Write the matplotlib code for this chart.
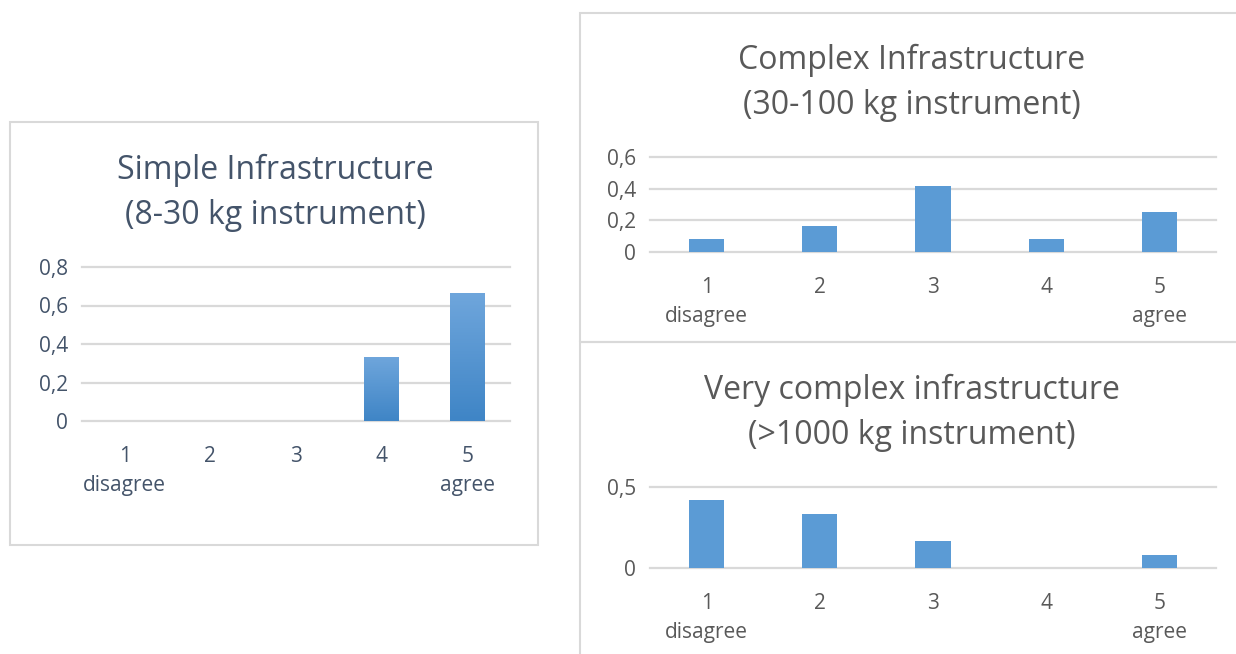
import numpy as np
import matplotlib
matplotlib.use("Agg")
import matplotlib.pyplot as plt
from matplotlib.patches import Rectangle
from matplotlib.colors import LinearSegmentedColormap

plt.rcParams['font.family'] = ['Open Sans', 'DejaVu Sans']

# data
categories = [1, 2, 3, 4, 5]
xlabels = ["1\ndisagree", "2", "3", "4", "5\nagree"]
simple_vals = [0, 0, 0, 0.333, 0.667]
complex_vals = [0.083, 0.167, 0.417, 0.083, 0.25]
very_complex_vals = [0.417, 0.333, 0.167, 0, 0.083]

simple_ticks = [0, 0.2, 0.4, 0.6, 0.8]
complex_ticks = [0, 0.2, 0.4, 0.6]
very_complex_ticks = [0, 0.5]

W, H = 1236, 654
fig = plt.figure(figsize=(W / 100, H / 100), dpi=100)

def px_axes(left, top, right, bottom):
    # pixel box (from top-left) -> figure fraction axes
    return fig.add_axes([left / W, 1 - bottom / H, (right - left) / W, (bottom - top) / H])

def frame(left, top, right, bottom):
    fig.patches.append(Rectangle((left / W, 1 - bottom / H), (right - left) / W, (bottom - top) / H,
                                 transform=fig.transFigure, fill=False, ec='#d9d9d9', lw=1.5))

def tick_label(v):
    return ("%g" % v).replace(".", ",")

def panel(ax, vals, ticks, width, color, txtcolor, gradient=False):
    ax.set_xlim(0.5, 5.5)
    ax.set_ylim(0, ticks[-1])
    for t in ticks:
        ax.axhline(t, color='#d9d9d9', lw=1.6, clip_on=False, zorder=0)
    bars = ax.bar(categories, vals, width=width, color=color, zorder=2)
    if gradient:
        cmap = LinearSegmentedColormap.from_list("g", ["#3f85c6", "#6fa6dc"])
        grad = np.linspace(0, 1, 100).reshape(-1, 1)
        for b in bars:
            if b.get_height() <= 0:
                continue
            x0, y0 = b.get_x(), b.get_y()
            im = ax.imshow(grad, extent=[x0, x0 + b.get_width(), y0, y0 + b.get_height()],
                           origin='lower', aspect='auto', cmap=cmap, zorder=3)
            im.set_clip_path(b)
        ax.set_xlim(0.5, 5.5)
        ax.set_ylim(0, ticks[-1])
    ax.set_yticks(ticks)
    ax.set_yticklabels([tick_label(t) for t in ticks])
    ax.set_xticks(categories)
    ax.set_xticklabels(xlabels, linespacing=1.52)
    ax.tick_params(length=0, labelsize=15, colors=txtcolor)
    ax.tick_params(axis='x', pad=18)
    ax.tick_params(axis='y', pad=10)
    for s in ax.spines.values():
        s.set_visible(False)

# left: simple infrastructure
frame(10, 122, 538, 545)
ax1 = px_axes(82, 267, 510, 421)
panel(ax1, simple_vals, simple_ticks, 0.4, '#5b9bd5', '#44546a', gradient=True)
fig.text(275 / W, 1 - 193 / H, "Simple Infrastructure\n(8-30 kg instrument)", ha='center', va='center',
         fontsize=23, color='#44546a', linespacing=1.5)

# right top: complex
frame(580, 13, 1240, 342)
ax2 = px_axes(650, 157, 1216, 252)
panel(ax2, complex_vals, complex_ticks, 0.31, '#5b9bd5', '#595959')
fig.text(912 / W, 1 - 83 / H, "Complex Infrastructure\n(30-100 kg instrument)", ha='center', va='center',
         fontsize=23, color='#595959', linespacing=1.5)

# right bottom: very complex
frame(580, 342, 1240, 700)
ax3 = px_axes(650, 487, 1216, 568)
panel(ax3, very_complex_vals, very_complex_ticks, 0.31, '#5b9bd5', '#595959')
fig.text(912 / W, 1 - 413 / H, "Very complex infrastructure\n(>1000 kg instrument)", ha='center', va='center',
         fontsize=23, color='#595959', linespacing=1.5)

fig.savefig("out.png", dpi=100)
